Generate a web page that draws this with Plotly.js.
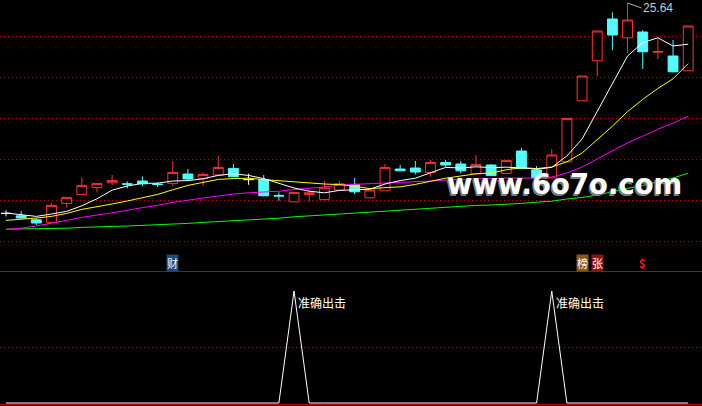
<!DOCTYPE html>
<html><head><meta charset="utf-8">
<script src="https://cdn.plot.ly/plotly-3.0.1.min.js"></script>
<style>html,body{margin:0;padding:0;background:#000;}#chart{width:702px;height:406px;}</style>
</head><body><div id="chart"></div>
<script>
// ---- data ----
const dayIndex = [1,2,3,4,5,6,7,8,9,10,11,12,13,14,15,16,17,18,19,20,21,22,23,24,25,26,27,28,29,30,31,32,33,34,35,36,37,38,39,40,41,42,43,44,45,46];
const openP  = [15.12,15.00,14.80,14.67,15.62,16.07,16.42,16.65,16.60,16.74,16.59,16.62,17.09,16.87,17.04,17.37,16.81,16.82,16.02,15.70,16.07,15.81,16.29,16.57,15.90,16.25,17.34,17.39,17.17,17.67,17.59,17.10,17.54,17.12,18.24,17.29,16.89,17.70,20.75,22.75,24.84,23.90,24.19,23.18,22.99,22.25];
const highP  = [15.27,15.24,14.87,15.62,15.92,16.92,16.62,17.04,16.72,16.97,16.67,17.74,17.34,17.17,17.99,17.59,17.11,17.04,16.17,16.17,16.27,16.74,16.74,16.90,16.40,17.59,17.54,17.74,17.79,17.79,17.74,18.04,17.59,17.77,18.40,17.49,18.34,19.87,21.99,24.24,25.17,25.64,24.29,23.87,23.79,24.49];
const lowP   = [14.97,14.86,14.54,14.67,15.42,16.07,16.20,16.54,16.37,16.49,16.45,16.50,16.79,16.50,17.04,16.95,16.55,16.00,15.75,15.70,15.70,15.81,16.29,16.09,15.90,16.25,17.25,17.07,16.95,17.44,17.12,17.10,17.01,17.12,17.37,16.89,16.89,17.70,20.75,21.99,23.29,23.15,22.34,22.84,22.16,22.25];
const closeP = [15.12,14.89,14.64,15.52,15.92,16.52,16.62,16.77,16.58,16.60,16.56,17.17,16.84,17.07,17.42,16.95,16.81,16.00,15.99,16.17,16.15,16.40,16.60,16.20,16.29,17.42,17.25,17.19,17.67,17.54,17.25,17.57,17.01,17.77,17.37,16.89,18.04,19.87,21.99,24.24,24.04,24.79,23.20,23.21,22.20,24.49];
const ma5  = [15.14,15.07,14.97,15.09,15.22,15.50,15.85,16.28,16.49,16.62,16.63,16.74,16.76,16.85,17.02,17.10,17.02,16.86,16.64,16.39,16.23,16.15,16.27,16.31,16.33,16.59,16.76,16.88,17.17,17.42,17.39,17.45,17.41,17.43,17.40,17.33,17.42,17.99,18.84,20.21,21.64,22.99,23.66,23.90,23.49,23.58];
const ma10 = [14.77,14.82,14.89,14.97,15.12,15.32,15.44,15.59,15.74,15.92,16.07,16.30,16.52,16.67,16.82,16.86,16.88,16.81,16.75,16.70,16.66,16.59,16.56,16.48,16.36,16.41,16.45,16.57,16.74,16.88,16.99,17.10,17.14,17.30,17.41,17.36,17.44,17.70,18.14,18.81,19.48,20.21,20.82,21.37,21.85,22.61];
const ma20 = [14.32,14.38,14.49,14.62,14.77,14.92,15.03,15.16,15.27,15.41,15.52,15.67,15.79,15.89,15.99,16.09,16.15,16.19,16.23,16.31,16.37,16.44,16.54,16.57,16.59,16.64,16.67,16.69,16.74,16.79,16.83,16.85,16.85,16.89,16.89,16.88,16.94,17.14,17.44,17.84,18.24,18.65,18.98,19.33,19.63,19.98];
const ma60 = [14.33,14.34,14.36,14.37,14.38,14.42,14.43,14.47,14.49,14.52,14.54,14.58,14.62,14.67,14.71,14.77,14.82,14.84,14.88,14.95,14.99,15.03,15.08,15.13,15.18,15.23,15.28,15.33,15.37,15.42,15.47,15.52,15.54,15.57,15.62,15.68,15.73,15.84,15.92,16.04,16.22,16.37,16.52,16.69,16.89,17.13];
const signal = [0,0,0,0,0,0,0,0,0,0,0,0,0,0,0,0,0,0,0,1,0,0,0,0,0,0,0,0,0,0,0,0,0,0,0,0,1,0,0,0,0,0,0,0,0,0];
const signalText = '准确出击';
const eventDay  = [12, 39, 40, 43];
const eventText = ['财', '榜', '张', '$'];
const gridLevels = [13.715, 15.765, 17.815, 19.865, 21.915, 23.965];
const signalGrid = [0.5];
const watermark = 'www.6o7o.com';

// ---- build traces ----
const up = [], down = [], flat = [];
dayIndex.forEach((d, i) => {
  if (closeP[i] > openP[i]) up.push(i);
  else if (closeP[i] < openP[i]) down.push(i);
  else flat.push(i);
});
function candle(idx, lineColor, fill) {
  const st = {line: {color: lineColor, width: 1}, fillcolor: fill};
  return {
    type: 'candlestick', xaxis: 'x', yaxis: 'y',
    x: idx.map(i => dayIndex[i]), open: idx.map(i => openP[i]), high: idx.map(i => highP[i]),
    low: idx.map(i => lowP[i]), close: idx.map(i => closeP[i]),
    increasing: st, decreasing: st, whiskerwidth: 0, hoverinfo: 'skip', showlegend: false
  };
}
function maLine(vals, color) {
  return {type: 'scatter', mode: 'lines', x: dayIndex, y: vals, xaxis: 'x', yaxis: 'y',
    line: {color: color, width: 1}, hoverinfo: 'skip', showlegend: false};
}
const traces = [
  candle(up, '#ff3232', '#000000'),
  candle(down, '#54fcfc', '#54fcfc'),
  candle(flat, '#ffffff', '#ffffff'),
  maLine(ma60, '#00ff00'),
  maLine(ma20, '#ff00ff'),
  maLine(ma10, '#ffff00'),
  maLine(ma5, '#ffffff'),
  {type: 'scatter', mode: 'lines', x: dayIndex, y: signal, xaxis: 'x2', yaxis: 'y2',
    line: {color: '#ffffff', width: 1}, hoverinfo: 'skip', showlegend: false}
];

// ---- annotations ----
const annotations = [];
annotations.push({xref: 'paper', yref: 'paper', x: 564/702, y: 0.5475, text: watermark,
  showarrow: false, xanchor: 'center', yanchor: 'middle',
  font: {family: 'DejaVu Sans', size: 27.5, color: '#ffffff', weight: 'bold', shadow: '-1.5px 1.5px 0px #7a7a7a'}});
const hiMax = Math.max(...highP), hiIdx = highP.indexOf(hiMax);
annotations.push({xref: 'x', yref: 'y', x: dayIndex[hiIdx], y: hiMax, text: hiMax.toFixed(2),
  showarrow: true, arrowhead: 0, arrowwidth: 1, arrowcolor: '#b0b0b0', ax: 14, ay: 5, standoff: 0,
  xanchor: 'left', yanchor: 'middle', borderpad: 0,
  font: {family: 'Liberation Sans', size: 12, color: '#c8c8c8'}});
const eventBg = {'财': '#164a80', '榜': '#8a5616', '张': '#8a1212', '$': 'rgba(0,0,0,0)'};
const eventFg = {'财': '#ffffff', '榜': '#ffffff', '张': '#ffffff', '$': '#ff2020'};
eventDay.forEach((d, k) => {
  annotations.push({xref: 'x', yref: 'paper', x: d, y: (406-263)/406, text: eventText[k],
    showarrow: false, xanchor: 'center', yanchor: 'middle', bgcolor: eventBg[eventText[k]], borderpad: 0,
    font: {family: 'Noto Sans CJK SC', size: 11, color: eventFg[eventText[k]], weight: eventText[k] === '$' ? 'bold' : 'normal'}});
});
signal.forEach((v, i) => {
  if (v === 1) annotations.push({xref: 'x2', yref: 'y2', x: dayIndex[i], y: v, text: signalText,
    showarrow: false, xanchor: 'left', yanchor: 'middle', xshift: 2, yshift: -11,
    font: {family: 'Noto Sans CJK SC', size: 12, color: '#ffffff'}});
});

const gridDash = '1px,3px';
const layout = {
  width: 702, height: 406, margin: {l: 0, r: 0, t: 0, b: 0, pad: 0},
  paper_bgcolor: '#000000', plot_bgcolor: '#000000', showlegend: false,
  boxgap: 0.35, boxgroupgap: 0, hovermode: false,
  xaxis: {domain: [0, 1], range: [0.604, 46.91], anchor: 'y', showgrid: false, zeroline: false,
    showticklabels: false, ticks: '', showline: false, rangeslider: {visible: false}, fixedrange: true},
  yaxis: {domain: [0.33251, 1], range: [12.24, 25.79], anchor: 'x', tickvals: gridLevels, showgrid: true,
    gridcolor: '#b40000', griddash: gridDash, gridwidth: 1, zeroline: false, showticklabels: false,
    ticks: '', showline: false, fixedrange: true},
  xaxis2: {domain: [0, 1], range: [0.604, 46.91], anchor: 'y2', showgrid: false, zeroline: false,
    showticklabels: false, ticks: '', showline: false, fixedrange: true},
  yaxis2: {domain: [0, 0.33251], range: [-0.0268, 1.1786], anchor: 'x2', tickvals: signalGrid, showgrid: true,
    gridcolor: '#b40000', griddash: gridDash, gridwidth: 1, zeroline: false, showticklabels: false,
    ticks: '', showline: false, fixedrange: true},
  shapes: [
    {type: 'line', xref: 'paper', yref: 'paper', x0: 0, x1: 1, y0: (406-271.5)/406, y1: (406-271.5)/406,
      line: {color: '#c00000', width: 1}},
    {type: 'line', xref: 'paper', yref: 'paper', x0: 0, x1: 1, y0: (406-404.5)/406, y1: (406-404.5)/406,
      line: {color: '#c00000', width: 1}}
  ],
  annotations: annotations
};
Plotly.newPlot('chart', traces, layout, {staticPlot: true, displayModeBar: false});
</script></body></html>
